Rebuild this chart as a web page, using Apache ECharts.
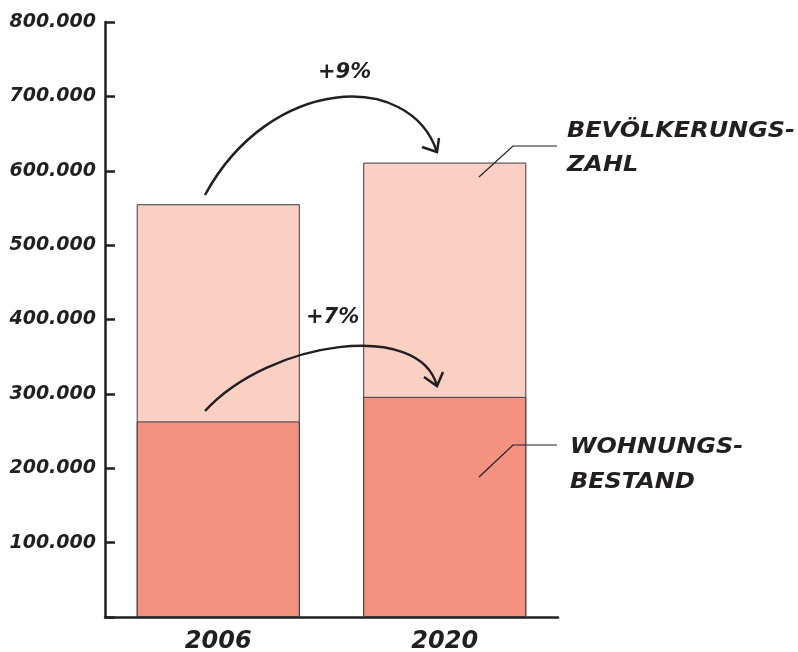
<!DOCTYPE html>
<html>
<head>
<meta charset="utf-8">
<script src="https://cdn.jsdelivr.net/npm/echarts@6/dist/echarts.min.js"></script>
<style>
html, body { margin: 0; padding: 0; background: #fff; }
#container { width: 798px; height: 652px; }
</style>
</head>
<body>
<div id="container"></div>
<script>
var years = ['2006', '2020'];
var bevoelkerung = [555000, 611000];
var wohnungen = [263000, 296000];
var yTicks = [0, 100000, 200000, 300000, 400000, 500000, 600000, 700000, 800000];

var font = '"DejaVu Sans"';
var ink = '#231f20';

function fmt(v) {
    if (v === 0) return '';
    return String(v).replace(/\B(?=(\d{3})+(?!\d))/g, '.');
}

var dom = document.getElementById('container');
var myChart = echarts.init(dom);

option = {
    animation: false,
    grid: { left: 105, right: 240, top: 22, bottom: 35, outerBoundsMode: 'none', containLabel: false },
    xAxis: {
        type: 'category',
        data: years,
        boundaryGap: true,
        axisLine: { lineStyle: { color: ink, width: 2.5 } },
        axisTick: { inside: true, length: 12, lineStyle: { color: ink, width: 2.5 } },
        axisLabel: {
            margin: 13, color: ink, fontFamily: font, fontSize: 24,
            fontWeight: 'bold', fontStyle: 'italic'
        }
    },
    yAxis: {
        type: 'value',
        min: yTicks[0],
        max: yTicks[yTicks.length - 1],
        interval: yTicks[1] - yTicks[0],
        splitLine: { show: false },
        axisLine: { show: true, lineStyle: { color: ink, width: 2.5 } },
        axisTick: { show: true, inside: true, length: 10, lineStyle: { color: ink, width: 2.5 } },
        axisLabel: {
            margin: 9, color: ink, fontFamily: font, fontSize: 19,
            fontWeight: 'bold', fontStyle: 'italic', formatter: fmt
        }
    },
    series: [
        {
            name: 'Bevölkerungszahl',
            type: 'bar',
            data: bevoelkerung,
            barWidth: '72%',
            barGap: '-100%',
            itemStyle: { color: '#fbd0c4', borderColor: '#3a3a3a', borderWidth: 1 }
        },
        {
            name: 'Wohnungsbestand',
            type: 'bar',
            data: wohnungen,
            barWidth: '72%',
            barGap: '-100%',
            itemStyle: { color: '#f49281', borderColor: '#3a3a3a', borderWidth: 1 }
        }
    ]
};
myChart.setOption(option, true);

// annotations: arrows and labels
var lineStyle = { stroke: ink, lineWidth: 2.5, fill: null };
var thin = { stroke: ink, lineWidth: 1.2, fill: null };
var txt = function (x, y, s, size, sx) {
    return {
        type: 'text', x: x, y: y, z: 100, scaleX: sx || 1,
        style: {
            text: s, fill: ink, font: 'italic bold ' + size + 'px ' + font,
            textVerticalAlign: 'middle'
        }
    };
};
myChart.setOption({
    graphic: [
        { type: 'bezierCurve', z: 100, shape: { x1: 205, y1: 195, cpx1: 270, cpy1: 75, cpx2: 410, cpy2: 70, x2: 437, y2: 152 }, style: lineStyle },
        { type: 'polyline', z: 100, shape: { points: [[422, 147], [437, 152], [439, 138]] }, style: lineStyle },
        { type: 'bezierCurve', z: 100, shape: { x1: 205, y1: 411, cpx1: 270, cpy1: 340, cpx2: 420, cpy2: 320, x2: 437, y2: 386 }, style: lineStyle },
        { type: 'polyline', z: 100, shape: { points: [[424, 377], [437, 386], [443, 372]] }, style: lineStyle },
        txt(318, 73, '+9%', 21),
        txt(306, 318, '+7%', 21),
        { type: 'polyline', z: 100, shape: { points: [[479, 177], [513, 146], [557, 146]] }, style: thin },
        { type: 'polyline', z: 100, shape: { points: [[479, 477], [513, 445], [557, 445]] }, style: thin },
        txt(567, 132, 'BEVÖLKERUNGS-', 21, 1.14),
        txt(567, 166, 'ZAHL', 21, 1.14),
        txt(570, 448, 'WOHNUNGS-', 21, 1.14),
        txt(570, 483, 'BESTAND', 21, 1.14)
    ]
});
</script>
</body>
</html>
